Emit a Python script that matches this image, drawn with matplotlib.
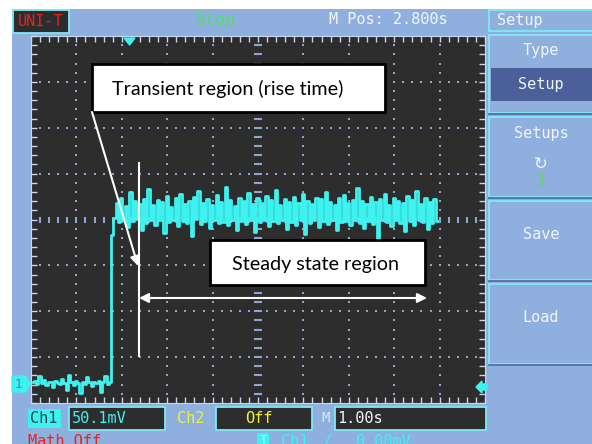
import numpy as np
import matplotlib
matplotlib.use("Agg")
import matplotlib.pyplot as plt
from matplotlib.patches import Rectangle, Polygon

# === SCOPE SETTINGS ===
VOLTS_PER_DIV = 50.1     # mV / div
SEC_PER_DIV = 1.00       # s / div
DT = 0.05                # s between trace samples
T0 = 0.04                # first sample, s from left edge

# === CH1 TRACE (mV) ===
before_step = [-178, -176, -180, -171, -179, -175, -181, -178, -177, -183,
               -176, -179, -180, -174, -179, -186, -170, -178, -181, -176,
               -179, -189, -177, -180, -172, -178, -182, -177, -179, -176,
               -188, -178, -171, -180, -177]
after_step = [-17, 2,
              18, -3, 24, 0, 15, -8, 30, -2, 20, 1, 17, -12, 22, -4, 33, 0, 16, -6, 21, -1,
              19, -15, 26, -3, 14, 0, 23, -7, 28, -2, 17, -4, 20, -18, 25, 1, 31, -5, 18, -2,
              22, -9, 16, 0, 27, -4, 19, -3, 35, -6, 21, -1, 15, -11, 24, -2, 20, -5, 29, 0,
              17, -14, 23, -3, 18, -1, 26, -7, 21, -2, 32, -4, 16, 0, 22, -10, 19, -3, 25, -6,
              18, -1, 28, -16, 20, -4, 17, 0, 24, -8, 22, -2, 30, -5, 19, -1, 16, -12, 23, -3,
              27, -2, 18, -6, 21, 0, 34, -4, 20, -9, 17, -2, 25, -5, 19, -20, 22, -1, 28, -3,
              16, -7, 24, 0, 20, -4, 18, -13, 26, -2, 21, -6, 31, -1, 17, -3, 23, -10, 19, -4,
              22, -2]

trace = np.array(before_step + after_step, dtype=float)
t = T0 + np.arange(len(trace)) * DT

# === COLOURS ===
BG = "#8fb0df"
DARK = "#2d2d2d"
CYAN = "#3ef2f0"
EDGE = "#7fe9f3"
DOT = "#8fa6d0"
TICK = "#c9d5ee"
WHITE = "#f2f5fb"
GREEN = "#52e060"
RED = "#e8231e"
YELLOW = "#eef03e"
SEL = "#4b5f9b"
MONO = "DejaVu Sans Mono"

W, H = 592, 444
fig = plt.figure(figsize=(W / 100, H / 100), dpi=100, facecolor="white")

# === UI CHROME (pixel coords) ===
ui = fig.add_axes([0, 0, 1, 1], zorder=0)
ui.set_xlim(0, W)
ui.set_ylim(H, 0)
ui.axis("off")
ui.add_patch(Rectangle((12, 9), W - 12, H - 9, facecolor=BG, edgecolor="none"))

def box(x0, y0, x1, y1, fc, ec=EDGE, lw=1.3):
    ui.add_patch(Rectangle((x0, y0), x1 - x0, y1 - y0, facecolor=fc,
                           edgecolor=ec, lw=lw))

def label(x, y, s, color=WHITE, size=11, ha="center", family=MONO):
    ui.text(x, y, s, color=color, fontsize=size, family=family, ha=ha,
            va="center")

# top bar
box(13, 10, 69, 33, DARK)
label(41, 22, "UNI-T", RED)
label(216, 20, "Stop", GREEN, size=12)
label(388, 20, "M Pos: 2.800s")
box(489, 10, 593, 31, BG)
label(497, 20, "Setup", ha="left")

# side menu
for y0, y1 in [(35, 113), (117, 197), (201, 280), (284, 364)]:
    ui.plot([489, 593], [y1 + 1, y1 + 1], color="#50649e", lw=1.2)
    box(489, y0, 593, y1, BG)
ui.add_patch(Rectangle((491, 68), 102, 33, facecolor=SEL, edgecolor="none"))
label(541, 51, "Type")
label(541, 84, "Setup")
label(541, 133, "Setups")
label(541, 164, "\u21bb", size=12, family="DejaVu Sans")
label(541, 181, "3", GREEN)
label(541, 234, "Save")
label(541, 317, "Load")

# bottom bar
ui.add_patch(Rectangle((28, 409), 33, 19, facecolor=CYAN, edgecolor="none"))
label(44, 418, "Ch1", "#24424e")
box(69, 407, 165, 430, DARK)
label(72, 418, "50.1mV", CYAN, ha="left")
label(191, 418, "Ch2", YELLOW)
box(216, 407, 312, 430, DARK)
label(259, 418, "Off", YELLOW)
label(326, 418, "M", "#dde6f5", size=10)
box(335, 407, 486, 430, DARK)
label(337, 418, "1.00s", WHITE, ha="left")
label(28, 441, "Math Off", RED, ha="left")
ui.add_patch(Rectangle((257, 433), 12, 12, facecolor=CYAN, edgecolor="none"))
label(263, 440, "T", WHITE, size=9)
label(281, 441, "Ch1", CYAN, ha="left")
label(322, 441, "/", CYAN, ha="left")
label(356, 441, "0.00mV", CYAN, ha="left")

# === SCOPE SCREEN ===
ax = fig.add_axes([31 / W, (H - 403) / H, 454 / W, 367 / H], zorder=1)
ax.set_facecolor(DARK)
ax.set_xlim(0, 10 * SEC_PER_DIV)
ax.set_ylim(-4 * VOLTS_PER_DIV, 4 * VOLTS_PER_DIV)
for s in ax.spines.values():
    s.set_color(TICK)
    s.set_linewidth(0.8)
ax.set_xticks(np.arange(0, 10.001, 0.2) * SEC_PER_DIV)
ax.set_yticks(np.arange(-4, 4.001, 0.2) * VOLTS_PER_DIV)
ax.tick_params(direction="in", length=4, width=1, color=TICK, top=True,
               right=True, labelbottom=False, labelleft=False)

# dotted graticule
sub = np.arange(0.2, 10, 0.2)
vsub = np.arange(-3.8, 3.81, 0.2)
for k in range(1, 10):
    if k == 5:
        continue
    ax.plot(np.full(len(vsub), k * SEC_PER_DIV), vsub * VOLTS_PER_DIV,
            ls="none", marker="s", ms=1.5, mew=0, color=DOT)
for k in range(-3, 4):
    if k == 0:
        continue
    ax.plot(sub * SEC_PER_DIV, np.full(len(sub), k * VOLTS_PER_DIV),
            ls="none", marker="s", ms=1.5, mew=0, color=DOT)
# centre lines with cross ticks
ax.plot(np.full(len(vsub), 5 * SEC_PER_DIV), vsub * VOLTS_PER_DIV,
        ls="none", marker="_", ms=6, mew=1.5, color=DOT)
ax.plot(sub * SEC_PER_DIV, np.zeros(len(sub)),
        ls="none", marker="|", ms=5, mew=1.5, color=DOT)

ax.plot(t, trace, color=CYAN, lw=2.0, drawstyle="steps-mid")

# === MARKERS AND ANNOTATIONS ===
top = fig.add_axes([0, 0, 1, 1], zorder=3)
top.set_xlim(0, W)
top.set_ylim(H, 0)
top.axis("off")
top.patch.set_alpha(0)

top.add_patch(Polygon([(124, 38), (135, 38), (129.5, 45)], color=CYAN))
top.add_patch(Polygon([(476, 387), (482, 381), (482, 384), (487, 384),
                       (487, 390), (482, 390), (482, 393)], color=CYAN))
top.add_patch(Polygon([(12, 376), (25, 376), (31, 384), (25, 392), (12, 392)],
                      color=CYAN))
top.text(18, 384, "1", color="#5a78c0", fontsize=9, family=MONO,
         ha="center", va="center")

top.add_patch(Rectangle((92, 64), 293, 48, facecolor="white", edgecolor="black", lw=2))
top.text(112, 89, "Transient region (rise time)", fontsize=14.2, family="Lato",
         color="black", ha="left", va="center")
top.add_patch(Rectangle((210, 240), 215, 45, facecolor="white", edgecolor="black", lw=2))
top.text(232, 264, "Steady state region", fontsize=14.2, family="Lato",
         color="black", ha="left", va="center")

top.annotate("", xy=(138, 266), xytext=(92, 112),
             arrowprops=dict(arrowstyle="-|>", color="white", lw=1.5,
                             mutation_scale=14, shrinkA=0, shrinkB=0))
top.plot([139, 139], [163, 356], color="white", lw=1.5)
top.annotate("", xy=(427, 298), xytext=(139, 298),
             arrowprops=dict(arrowstyle="<|-|>", color="white", lw=1.5,
                             mutation_scale=14, shrinkA=0, shrinkB=0))

fig.savefig("out.png", dpi=100, facecolor="white")
